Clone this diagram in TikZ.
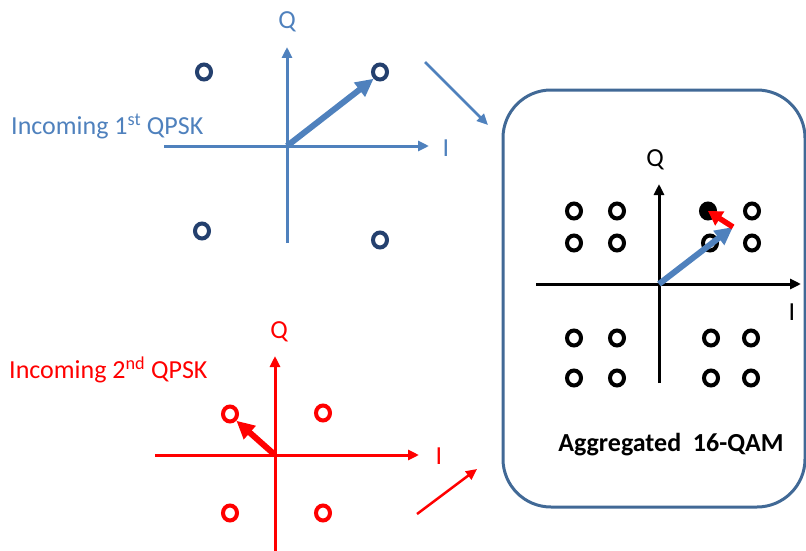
\documentclass[tikz,border=0pt]{standalone}
\usepackage{fontspec}
\setmainfont{Carlito}
\usetikzlibrary{arrows.meta,shapes.geometric}
\definecolor{qblue}{RGB}{79,129,189}
\definecolor{qdark}{RGB}{36,64,110}
\definecolor{boxblue}{RGB}{65,105,150}
\definecolor{qred}{RGB}{255,0,0}
\begin{document}
\begin{tikzpicture}[x=1pt,y=-1pt,
  axis/.style={line width=3pt,-{Triangle[length=11pt,width=10pt]}},
  vec/.style={line width=6pt,-{Triangle[length=18pt,width=17pt]}},
  link/.style={line width=2.5pt,-{Triangle[length=11pt,width=10pt]}},
  cpt/.style={ellipse,draw,line width=4pt,inner sep=0pt,minimum width=14pt,minimum height=15pt},
  lbl/.style={font=\fontsize{26}{30}\selectfont,inner sep=0pt}]
\useasboundingbox (0,0) rectangle (806,551);

% ---------- first QPSK (blue) ----------
\coordinate (o1) at (287,146);
\coordinate (o1l) at (164,146);
\coordinate (o1r) at (429,146);
\coordinate (o1t) at (287,47);
\coordinate (o1b) at (287,243);
\draw[axis,qblue] (o1l) -- (o1r);
\draw[axis,qblue] (o1b) -- (o1t);
\node[lbl,qblue] (q1) at (287,22) {Q};
\node[lbl,qblue] (i1) at (446,148) {I};
\node[cpt,draw=qdark] (p1a) at (204,72) {};
\node[cpt,draw=qdark] (p1b) at (380,72) {};
\node[cpt,draw=qdark] (p1c) at (202,231) {};
\node[cpt,draw=qdark] (p1d) at (380,240) {};
\draw[vec,qblue] (o1) -- (p1b.south west);
\node[lbl,qblue,anchor=west] (t1) at (11,126) {Incoming 1\textsuperscript{st} QPSK};

% ---------- second QPSK (red) ----------
\coordinate (o2) at (275,455);
\coordinate (o2l) at (155,455);
\coordinate (o2r) at (419,455);
\coordinate (o2t) at (275,356);
\coordinate (o2b) at (275,551);
\draw[axis,qred] (o2l) -- (o2r);
\draw[axis,qred] (o2b) -- (o2t);
\node[lbl,qred] (q2) at (279,332) {Q};
\node[lbl,qred] (i2) at (439,456) {I};
\node[cpt,draw=qred] (p2a) at (230,414) {};
\node[cpt,draw=qred] (p2b) at (323,413) {};
\node[cpt,draw=qred] (p2c) at (230,513) {};
\node[cpt,draw=qred] (p2d) at (323,513) {};
\draw[vec,qred] (o2) -- (p2a.south east);
\node[lbl,qred,anchor=west] (t2) at (9,370) {Incoming 2\textsuperscript{nd} QPSK};

% ---------- aggregated box ----------
\node[draw=boxblue,line width=3pt,rounded corners=48pt,minimum width=302pt,minimum height=417pt,inner sep=0pt] (box) at (654,298.5) {};
\coordinate (a1s) at (425,62);
\coordinate (a1e) at (488,125);
\coordinate (a2s) at (417,514);
\coordinate (a2e) at (477,469);
\draw[link,qblue] (a1s) -- (a1e);
\draw[link,qred] (a2s) -- (a2e);

\coordinate (o3) at (659,284);
\coordinate (o3l) at (536,284);
\coordinate (o3r) at (801,284);
\coordinate (o3t) at (659,184);
\coordinate (o3b) at (659,383);
\draw[axis,black] (o3l) -- (o3r);
\draw[axis,black] (o3b) -- (o3t);
\node[lbl] (q3) at (655,160) {Q};
\node[lbl] (i3) at (792,312) {I};

\node[cpt] (c11) at (574,211) {};
\node[cpt] (c12) at (617,211) {};
\node[cpt,fill=black] (c13) at (708,211) {};
\node[cpt] (c14) at (752,211) {};
\node[cpt] (c21) at (574,243) {};
\node[cpt] (c22) at (617,243) {};
\node[cpt] (c23) at (710,243) {};
\node[cpt] (c24) at (752,243) {};
\node[cpt] (c31) at (574,338) {};
\node[cpt] (c32) at (617,338) {};
\node[cpt] (c33) at (711,338) {};
\node[cpt] (c34) at (751,338) {};
\node[cpt] (c41) at (574,378) {};
\node[cpt] (c42) at (617,378) {};
\node[cpt] (c43) at (711,378) {};
\node[cpt] (c44) at (751,378) {};

\coordinate (sum) at (733,227);
\draw[vec,qblue] (o3) -- (sum);
\draw[line width=5.5pt,-{Triangle[length=14pt,width=16pt]},qred] (sum) -- (c13.center);
\node[lbl,font=\fontsize{26}{30}\selectfont\bfseries] (agg) at (671,445) {Aggregated\ \ 16-QAM};
\end{tikzpicture}
\end{document}
